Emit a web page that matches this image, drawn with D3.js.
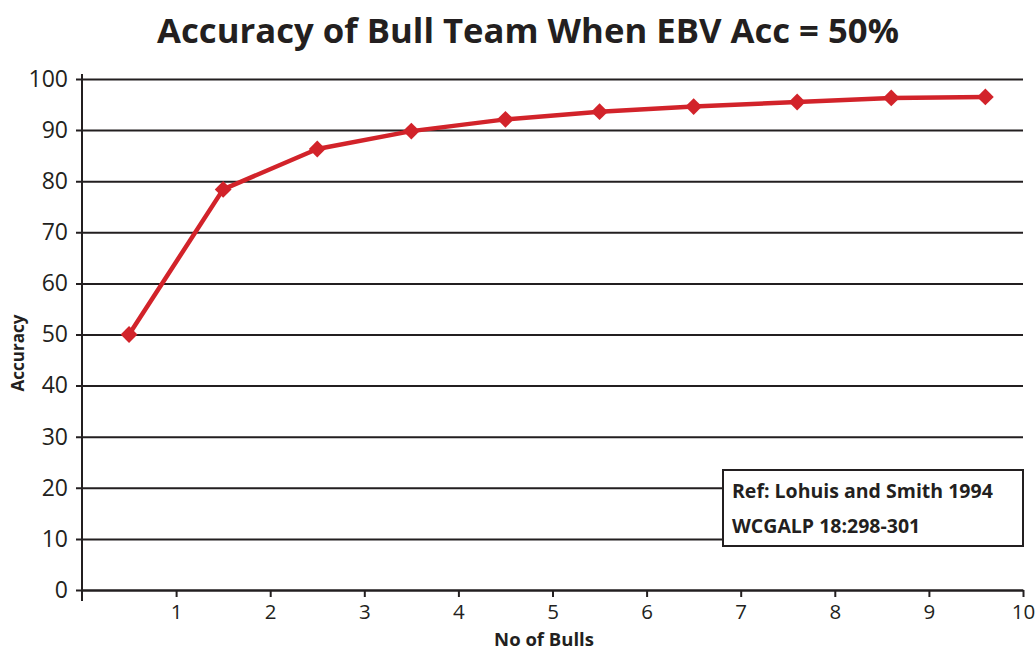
<!DOCTYPE html>
<html>
<head>
<meta charset="utf-8">
<script src="https://cdn.jsdelivr.net/npm/d3@7"></script>
<style>
  body { margin: 0; background: #fff; }
  text { font-family: "Open Sans", "Noto Sans", sans-serif; fill: #231f20; }
</style>
</head>
<body>
<div id="chart"></div>
<script>
const bulls = [0.5, 1.5, 2.5, 3.5, 4.5, 5.5, 6.5, 7.6, 8.6, 9.6]
const accuracy = [50, 78.4, 86.3, 89.8, 92.1, 93.6, 94.6, 95.5, 96.3, 96.5]
const xTicks = [1, 2, 3, 4, 5, 6, 7, 8, 9, 10]
const yTicks = [0, 10, 20, 30, 40, 50, 60, 70, 80, 90, 100]
const refLines = ["Ref: Lohuis and Smith 1994", "WCGALP 18:298-301"]

const width = 1036, height = 650
const margin = {top: 79, right: 13, bottom: 60, left: 82}
const ink = "#231f20", red = "#d2232a"

const svg = d3.select("#chart").append("svg")
    .attr("width", width)
    .attr("height", height)

const x = d3.scaleLinear().domain([0, 10]).range([margin.left, width - margin.right])
const y = d3.scaleLinear().domain([0, 100]).range([height - margin.bottom, margin.top])

// title
svg.append("text")
    .attr("x", 528).attr("y", 43)
    .attr("text-anchor", "middle")
    .attr("font-size", 34.7).attr("font-weight", "bold")
    .text("Accuracy of Bull Team When EBV Acc = 50%")

// horizontal grid with left ticks
const yAxis = svg.append("g")
    .attr("transform", `translate(${margin.left},0)`)
    .call(d3.axisLeft(y).tickValues(yTicks)
      .tickSizeInner(-(x(10) - x(0))).tickSizeOuter(0))
yAxis.select(".domain").remove()
yAxis.selectAll(".tick line")
    .attr("x1", -6)
    .attr("stroke", ink).attr("stroke-width", 2)
yAxis.selectAll(".tick text")
    .attr("x", -14)
    .attr("font-size", 23).attr("fill", ink)
    .style("font-family", '"Open Sans", sans-serif')

// x axis
const xAxis = svg.append("g")
    .attr("transform", `translate(0,${y(0)})`)
    .call(d3.axisBottom(x).tickValues(xTicks).tickSizeInner(7).tickSizeOuter(0).tickPadding(7))
xAxis.select(".domain").attr("stroke", ink).attr("stroke-width", 2)
xAxis.selectAll(".tick line").attr("stroke", ink).attr("stroke-width", 2)
xAxis.selectAll(".tick text")
    .attr("font-size", 20.5).attr("fill", ink)
    .style("font-family", '"Open Sans", sans-serif')

// vertical axis line
svg.append("line")
    .attr("x1", x(0)).attr("x2", x(0))
    .attr("y1", y(100) - 5).attr("y2", y(0) + 11)
    .attr("stroke", ink).attr("stroke-width", 2)

// axis titles
svg.append("text")
    .attr("transform", `translate(24,353) rotate(-90)`)
    .attr("text-anchor", "middle")
    .attr("font-size", 17).attr("font-weight", "bold")
    .text("Accuracy")

svg.append("text")
    .attr("x", 544).attr("y", 646)
    .attr("text-anchor", "middle")
    .attr("font-size", 18.5).attr("font-weight", "bold")
    .text("No of Bulls")

// data line
const data = bulls.map((b, i) => ({x: b, y: accuracy[i]}))
const line = d3.line().x(d => x(d.x)).y(d => y(d.y))

svg.append("path")
    .datum(data)
    .attr("fill", "none")
    .attr("stroke", red)
    .attr("stroke-width", 4.5)
    .attr("stroke-linejoin", "round")
    .attr("d", line)

svg.append("g")
  .selectAll("path")
  .data(data)
  .join("path")
    .attr("transform", d => `translate(${x(d.x)},${y(d.y)})`)
    .attr("d", d3.symbol(d3.symbolDiamond2, 180))
    .attr("fill", red)

// reference box
const box = svg.append("g").attr("transform", "translate(723,470)")
box.append("rect")
    .attr("width", 300).attr("height", 76)
    .attr("fill", "#fff").attr("stroke", ink).attr("stroke-width", 2)
box.selectAll("text")
  .data(refLines)
  .join("text")
    .attr("x", 9)
    .attr("y", (d, i) => 28 + i * 35)
    .attr("font-size", 19.5).attr("font-weight", "bold")
    .text(d => d)
</script>
</body>
</html>
